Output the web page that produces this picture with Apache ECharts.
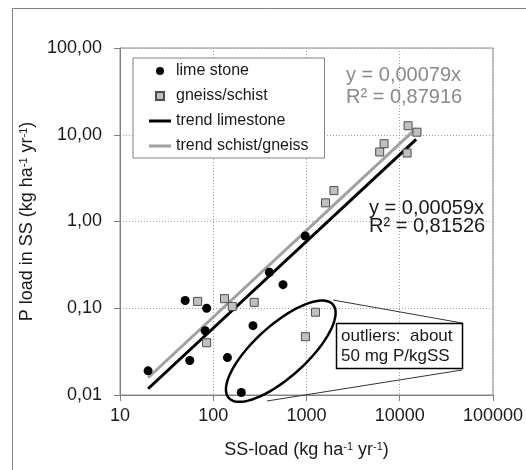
<!DOCTYPE html>
<html lang="en">
  <head>
    <meta charset="UTF-8" />
    <script src="https://cdn.jsdelivr.net/npm/echarts@6/dist/echarts.min.js"></script>
    <style>
      html, body { margin: 0; padding: 0; background: #fff; }
    </style>
    <title>P load vs SS load</title>
  </head>
  <body>
    <div id="main" style="width: 526px; height: 470px;"></div>

    <script>
      const FONT = "'Liberation Sans', Arial, sans-serif";

      // lime stone points (SS-load, P load)
      const limeX = [20, 50, 85, 82, 56, 142, 267, 400, 560, 970, 200];
      const limeY = [0.019, 0.123, 0.10, 0.055, 0.025, 0.027, 0.063, 0.26, 0.187, 0.68, 0.0107];

      // gneiss/schist points
      const gneissX = [68, 132, 160, 275, 85, 975, 1250, 1600, 1970, 6100, 6800, 12000, 12300, 15300];
      const gneissY = [0.12, 0.129, 0.105, 0.117, 0.040, 0.047, 0.090, 1.64, 2.27, 6.33, 7.88, 6.16, 12.7, 10.7];

      // trend line ends
      const trendX = [20, 15000];
      const limeTrendY = [0.0118, 8.85];
      const gneissTrendY = [0.0158, 11.85];

      const xTicks = [10, 100, 1000, 10000, 100000];
      const yTicks = [0.01, 0.1, 1, 10, 100];

      const zip = (xs, ys) => xs.map((x, i) => [x, ys[i]]);

      const chart = echarts.init(document.getElementById("main"));

      const supRich = {
        sup: { fontSize: 11, verticalAlign: "top", fontFamily: FONT, color: "#1a1a1a" },
      };
      const SQUARE = "path://M0,0L10,0L10,10L0,10Z";
      const BAR = "path://M0,0L22,0L22,3L0,3Z";

      chart.setOption({
        animation: false,
        textStyle: { fontFamily: FONT },
        grid: {
          left: 120,
          right: 30,
          top: 48,
          bottom: 75,
          show: true,
          borderColor: "#8c8c8c",
          borderWidth: 1,
        },
        legend: {
          orient: "vertical",
          left: 133,
          top: 58,
          padding: [5, 16, 4, 16],
          borderColor: "#808080",
          borderWidth: 1,
          backgroundColor: "#fff",
          itemWidth: 22,
          itemHeight: 8,
          itemGap: 9,
          textStyle: { fontSize: 16, color: "#1a1a1a", fontFamily: FONT },
          data: [
            { name: "lime stone", icon: "circle" },
            { name: "gneiss/schist", icon: SQUARE },
            { name: "trend limestone", icon: BAR, itemStyle: { color: "#000" } },
            { name: "trend schist/gneiss", icon: BAR, itemStyle: { color: "#a0a0a0" } },
          ],
        },
        xAxis: {
          type: "log",
          logBase: 10,
          min: xTicks[0],
          max: xTicks[xTicks.length - 1],
          name: "SS-load (kg ha{sup|-1} yr{sup|-1})",
          nameLocation: "middle",
          nameGap: 46,
          nameTextStyle: { fontSize: 18, color: "#1a1a1a", fontFamily: FONT, rich: supRich },
          axisLine: { lineStyle: { color: "#808080" } },
          axisTick: { length: 6, lineStyle: { color: "#808080" } },
          axisLabel: {
            fontSize: 18,
            color: "#1a1a1a",
            margin: 12,
            formatter: (v) => String(Math.round(v)),
          },
          splitLine: { show: true, lineStyle: { color: "#a0a0a0", type: [1, 2] } },
        },
        yAxis: {
          type: "log",
          logBase: 10,
          min: yTicks[0],
          max: yTicks[yTicks.length - 1],
          name: "P load in SS (kg ha{sup|-1} yr{sup|-1})",
          nameLocation: "middle",
          nameRotate: 90,
          nameGap: 76,
          nameTextStyle: { fontSize: 18, color: "#1a1a1a", fontFamily: FONT, rich: supRich },
          axisLine: { show: true, lineStyle: { color: "#808080" } },
          axisTick: { show: true, length: 6, lineStyle: { color: "#808080" } },
          axisLabel: {
            fontSize: 18,
            color: "#1a1a1a",
            margin: 18,
            formatter: (v) => Number(v).toFixed(2).replace(".", ","),
          },
          splitLine: { show: true, lineStyle: { color: "#a0a0a0", type: [1, 2] } },
        },
        series: [
          {
            name: "trend limestone",
            type: "line",
            symbol: "none",
            data: zip(trendX, limeTrendY),
            lineStyle: { color: "#000", width: 3 },
            itemStyle: { color: "#000" },
            z: 2,
          },
          {
            name: "trend schist/gneiss",
            type: "line",
            symbol: "none",
            data: zip(trendX, gneissTrendY),
            lineStyle: { color: "#a0a0a0", width: 3 },
            itemStyle: { color: "#a0a0a0" },
            z: 2,
          },
          {
            name: "lime stone",
            type: "scatter",
            symbol: "circle",
            symbolSize: 9,
            data: zip(limeX, limeY),
            itemStyle: { color: "#000", opacity: 1 },
            z: 3,
          },
          {
            name: "gneiss/schist",
            type: "scatter",
            symbol: "rect",
            symbolSize: 8,
            data: zip(gneissX, gneissY),
            itemStyle: { color: "#c0c0c0", borderColor: "#4d4d4d", borderWidth: 1, opacity: 1 },
            z: 3,
          },
        ],
      });

      // outlier ellipse, built around a point in data space
      const c = chart.convertToPixel("grid", [530, 0.032]);
      const a = 70, b = 26, th = (42 * Math.PI) / 180;
      const ell = [];
      for (let i = 0; i < 72; i++) {
        const t = (i / 72) * Math.PI * 2;
        ell.push([
          c[0] + a * Math.cos(t) * Math.cos(th) - b * Math.sin(t) * Math.sin(th),
          c[1] - (a * Math.cos(t) * Math.sin(th) + b * Math.sin(t) * Math.cos(th)),
        ]);
      }

      chart.setOption({
        graphic: [
          {
            type: "rect",
            shape: { x: 12.5, y: 8.5, width: 700, height: 700 },
            style: { fill: null, stroke: "#808080", lineWidth: 1 },
            silent: true,
            z: 0,
          },
          {
            type: "polygon",
            shape: { points: ell },
            style: { fill: null, stroke: "#000", lineWidth: 2.5 },
            z: 10,
          },
          {
            type: "line",
            shape: { x1: 333, y1: 300, x2: 462, y2: 323 },
            style: { stroke: "#333", lineWidth: 1 },
            z: 10,
          },
          {
            type: "line",
            shape: { x1: 267, y1: 401, x2: 462, y2: 370 },
            style: { stroke: "#333", lineWidth: 1 },
            z: 10,
          },
          {
            type: "rect",
            shape: { x: 336.5, y: 323.5, width: 126, height: 45 },
            style: { fill: "#fff", stroke: "#000", lineWidth: 1.5 },
            z: 11,
          },
          {
            type: "text",
            x: 341,
            y: 326,
            style: {
              text: "outliers:  about\n50 mg P/kgSS",
              font: "17px " + FONT,
              fill: "#1a1a1a",
              lineHeight: 20,
            },
            z: 12,
          },
          {
            type: "text",
            x: 346,
            y: 75,
            style: { text: "y = 0,00079x", font: "20px " + FONT, fill: "#8a8a8a", verticalAlign: "middle" },
            z: 12,
          },
          {
            type: "text",
            x: 346,
            y: 97,
            style: { text: "R² = 0,87916", font: "20px " + FONT, fill: "#8a8a8a", verticalAlign: "middle" },
            z: 12,
          },
          {
            type: "text",
            x: 369,
            y: 208,
            style: { text: "y = 0,00059x", font: "20px " + FONT, fill: "#1a1a1a", verticalAlign: "middle" },
            z: 12,
          },
          {
            type: "text",
            x: 369,
            y: 226,
            style: { text: "R² = 0,81526", font: "20px " + FONT, fill: "#1a1a1a", verticalAlign: "middle" },
            z: 12,
          },
        ],
      });
    </script>
  </body>
</html>
